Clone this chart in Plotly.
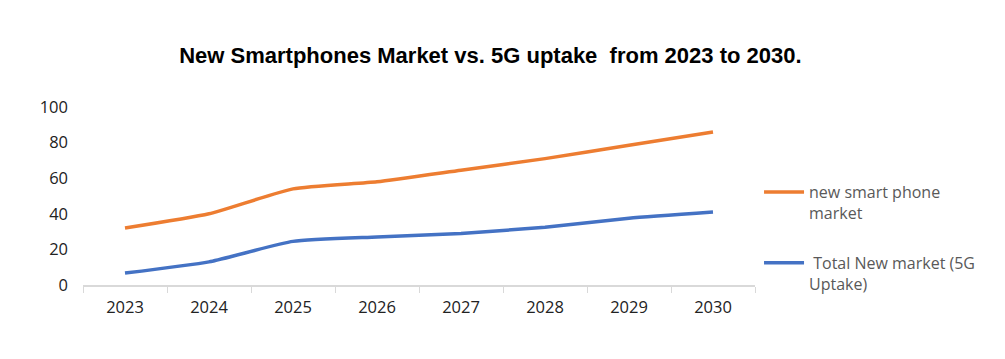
import plotly.graph_objects as go

years = ["2023", "2024", "2025", "2026", "2027", "2028", "2029", "2030"]
smartphone_market = [32, 40, 54, 58, 64.5, 71, 78.5, 86]
uptake_5g = [6.7, 13, 24.5, 27, 29, 32.5, 37.5, 41]
y_ticks = [0, 20, 40, 60, 80, 100]

fig = go.Figure()
fig.add_trace(go.Scatter(
    x=years, y=smartphone_market, mode="lines",
    name="new smart phone<br>market", legendgroup="a",
    line=dict(color="#ED7D31", width=3.5, shape="spline", smoothing=0.5),
))
fig.add_trace(go.Scatter(
    x=years, y=uptake_5g, mode="lines",
    name=" Total New market (5G<br>Uptake)", legendgroup="b",
    line=dict(color="#4472C4", width=3.5, shape="spline", smoothing=0.5),
))

fig.update_layout(
    width=1005, height=359,
    margin=dict(l=75, r=258, t=99, b=82, autoexpand=False),
    paper_bgcolor="white", plot_bgcolor="white",
    title=dict(
        text="<b>New Smartphones Market vs. 5G uptake  from 2023 to 2030.</b>",
        x=0.48, xanchor="center", y=0.869, yanchor="middle",
        font=dict(family="Liberation Sans Narrow, Arial Narrow, sans-serif", size=22, color="#000000"),
    ),
    font=dict(family="Open Sans, sans-serif", size=16, color="#222222"),
    showlegend=True,
    legend=dict(
        x=1.006, xanchor="left", y=0.617, yanchor="top",
        font=dict(family="Open Sans, sans-serif", size=16, color="#595959"),
        valign="top", tracegroupgap=26, itemwidth=40,
        bgcolor="rgba(0,0,0,0)",
    ),
)
fig.update_xaxes(
    type="category", automargin=False,
    showline=True, linecolor="#D9D9D9", linewidth=1.5,
    ticks="outside", tickson="boundaries", ticklen=6, tickcolor="#D9D9D9",
    showgrid=False, zeroline=False,
    tickfont=dict(family="Open Sans, sans-serif", size=16.5, color="#222222"),
    ticklabelstandoff=6,
    range=[-0.5, 7.5],
)
fig.update_yaxes(
    range=[0, 100], tickvals=y_ticks, automargin=False,
    showline=False, showgrid=False, zeroline=False,
    tickfont=dict(family="Open Sans, sans-serif", size=16.5, color="#222222"),
    ticklabelstandoff=14,
)

fig.write_html("out.html")
